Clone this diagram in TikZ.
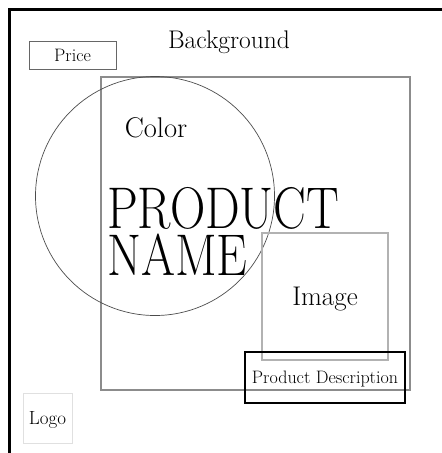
\documentclass[tikz,border=0pt]{standalone}
\usepackage{graphicx}
\begin{document}
\begin{tikzpicture}[x=1pt,y=-1pt,
  lbl/.style={inner sep=0pt, anchor=base},
  frameline/.style={draw=black, line width=3pt},
  thinbox/.style={draw=black!60, line width=0.9pt},
  panel/.style={draw=black!45, line width=2.4pt},
  imgbox/.style={draw=black!30, line width=1.1pt},
  descbox/.style={draw=black, line width=1.2pt},
  logobox/.style={draw=black!12, line width=1pt},
  ring/.style={draw=black!70, line width=0.7pt}]
\useasboundingbox (0,0) rectangle (442,453);
\fill[white] (0,0) rectangle (442,453);

% page frame (top and left edges)
\draw[frameline] (442,9.5) -- (9,9.5) -- (9,453);

% layout blocks
\draw[panel] (101,77) rectangle (410,390);
\draw[ring] (155,196) circle (119.5);
\draw[imgbox] (262,233) rectangle (388,360);
\draw[descbox] (245,352) rectangle (405,403);
\draw[thinbox] (29,41) rectangle (116,69);
\draw[logobox] (23,393) rectangle (72,443);

% labels
\node[lbl, font=\fontsize{18}{20}\selectfont] (price) at (72.5,61) {Price};
\node[lbl, font=\fontsize{25.5}{28}\selectfont] (bg) at (229,48.5) {Background};
\node[lbl, font=\fontsize{28.5}{30}\selectfont] (color) at (156,137) {Color};
% two-line title; the base anchor sits on the last line
\node[inner sep=0pt, anchor=base west, align=left,
      font=\fontsize{49}{48}\selectfont] (prod) at (107,275)
      {\scalebox{1}[1.2]{PRODUCT}\\[-1pt]\scalebox{1}[1.2]{NAME}};
\node[lbl, font=\fontsize{27}{30}\selectfont] (image) at (325,305) {Image};
\node[lbl, font=\fontsize{18}{20}\selectfont] (desc) at (325,383) {Product Description};
\node[lbl, font=\fontsize{19}{21}\selectfont] (logo) at (47.5,424) {Logo};
\end{tikzpicture}
\end{document}
